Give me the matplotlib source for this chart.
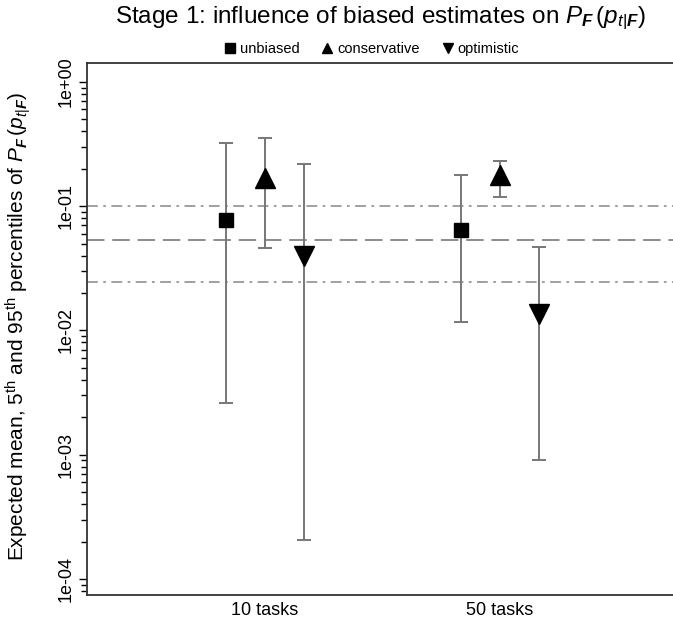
import numpy as np
import matplotlib
matplotlib.use("Agg")
import matplotlib.pyplot as plt
from matplotlib.lines import Line2D
from matplotlib.ticker import LogLocator, NullFormatter

plt.rcParams["font.family"] = ["Liberation Sans", "DejaVu Sans"]
plt.rcParams["mathtext.fontset"] = "custom"
plt.rcParams["mathtext.rm"] = "Liberation Sans"
plt.rcParams["mathtext.it"] = "Liberation Sans:italic"
plt.rcParams["mathtext.bf"] = "Liberation Sans:bold"
plt.rcParams["mathtext.bfit"] = "Liberation Sans:bold:italic"

# groups and estimate types
groups = ["10 tasks", "50 tasks"]
kinds = ["unbiased", "conservative", "optimistic"]
markers = ["s", "^", "v"]
marker_sizes = [10.5, 15, 15]

# expected mean, 5th and 95th percentiles (rows: kinds, cols: groups)
means = [[0.0777, 0.0644],
         [0.169, 0.179],
         [0.0398, 0.0136]]
p05 = [[0.00263, 0.0117],
       [0.0462, 0.119],
       [0.000207, 0.00091]]
p95 = [[0.323, 0.179],
       [0.354, 0.229],
       [0.219, 0.0473]]

# reference levels
ref_upper = 0.1
ref_mid = 0.0536
ref_lower = 0.0246

ytick_vals = [1e-4, 1e-3, 1e-2, 1e-1, 1e0]
ytick_labels = ["1e-04", "1e-03", "1e-02", "1e-01", "1e+00"]

fig = plt.figure(figsize=(6.73, 6.26), dpi=100)
ax = fig.add_axes([0.1293, 0.0495, 0.8707, 0.85])

grey = "#777777"
ax.axhline(ref_upper, color="#999999", lw=1.3, ls=(0, (6, 3, 1.5, 3)), zorder=1)
ax.axhline(ref_mid, color="#8c8c8c", lw=1.4, ls=(0, (9, 4)), zorder=1)
ax.axhline(ref_lower, color="#999999", lw=1.3, ls=(0, (6, 3, 1.5, 3)), zorder=1)

offsets = [-0.166, 0.0, 0.166]
xg = np.arange(1, len(groups) + 1)
for k in range(len(kinds)):
    x = xg + offsets[k]
    m = np.array(means[k])
    lo = m - np.array(p05[k])
    hi = np.array(p95[k]) - m
    ax.errorbar(x, m, yerr=[lo, hi], fmt="none", ecolor=grey, elinewidth=1.4,
                capsize=5, capthick=1.4, zorder=2)
    ax.plot(x, m, ls="none", marker=markers[k], ms=marker_sizes[k],
            color="black", zorder=3)

ax.set_yscale("log")
ax.set_ylim(7.43e-5, 1.42)
ax.set_xlim(0.243, 2.736)

ax.set_yticks(ytick_vals)
ax.set_yticklabels(ytick_labels, rotation=90, va="center", fontsize=13)
ax.yaxis.set_minor_locator(LogLocator(base=10, subs=np.arange(2, 10)))
ax.yaxis.set_minor_formatter(NullFormatter())
ax.tick_params(axis="y", which="major", length=6, width=1, pad=3)
ax.tick_params(axis="y", which="minor", length=4, width=1)

ax.set_xticks(xg)
ax.set_xticklabels(groups, fontsize=13)
ax.tick_params(axis="x", length=0, pad=5)

ax.spines["right"].set_visible(False)
for s in ["left", "bottom", "top"]:
    ax.spines[s].set_linewidth(1.3)
    ax.spines[s].set_color("#333333")

pf = r"$P_{\boldsymbol{F}}\,(p_{t|\boldsymbol{F}})$"
ax.set_ylabel("Expected mean, 5$^{\\rm th}$ and 95$^{\\rm th}$ percentiles of " + pf,
              fontsize=15)
ax.yaxis.set_label_coords(-0.092, 0.505)

fig.text(0.566, 0.970, "Stage 1: influence of biased estimates on " + pf,
         ha="center", va="center", fontsize=17.5)

handles = [Line2D([], [], ls="none", marker=mk, color="black", ms=6.5)
           for mk in markers]
fig.legend(handles, kinds, loc="center", bbox_to_anchor=(0.55, 0.922),
           ncol=3, frameon=False, fontsize=10.5, handletextpad=0.1,
           columnspacing=1.3, handlelength=1.2)

fig.savefig("out.png", dpi=100)
